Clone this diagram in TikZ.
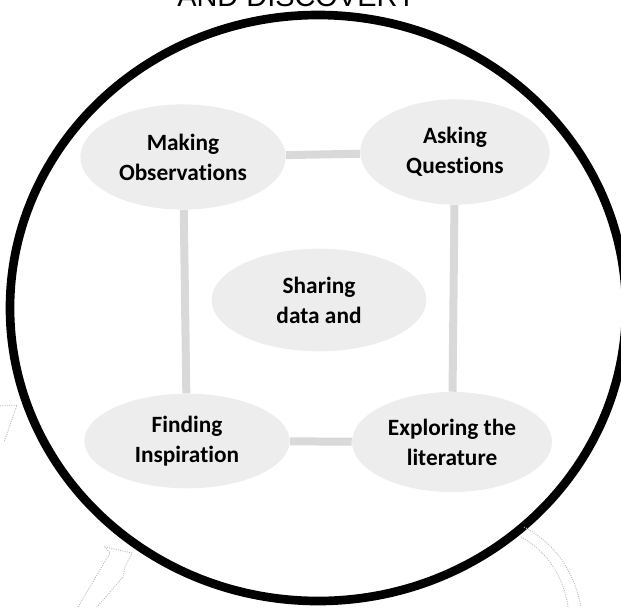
\documentclass[tikz,border=0pt]{standalone}
\usepackage{fontspec}
\setmainfont{Carlito}[Ligatures=NoCommon]
\newfontfamily\headfont{Liberation Sans}
\usetikzlibrary{shapes.geometric,positioning}
\tikzset{
    bubble/.style={ellipse,fill=gray!14,inner sep=0pt,align=center,
        font=\bfseries\fontsize{17.5}{22.5}\selectfont},
    link/.style={draw=gray!30,line width=6pt},
    ghost/.style={draw=gray!55,densely dotted,line width=0.7pt}
}

\begin{document}
\begin{tikzpicture}[x=0.75pt,y=-0.75pt]
    \useasboundingbox (0,0) rectangle (621,607);
    \clip (0,0) rectangle (621,607);

    % heading, cut by the top edge
    \node[font=\headfont\fontsize{21.7}{24}\selectfont,anchor=base west,inner sep=0pt]
        (heading) at (177,6) {AND DISCOVERY};

    \draw[line width=6.5pt] (318,308) ellipse [x radius=308,y radius=293];

    \node[bubble,minimum width=154pt,minimum height=79pt] (obs)   at (183,157) {Making\\Observations};
    \node[bubble,minimum width=142pt,minimum height=79pt] (ask)   at (455,152) {Asking\\Questions};
    \node[bubble,minimum width=161pt,minimum height=77pt] (share) at (319,300) {Sharing\\data and};
    \node[bubble,minimum width=154pt,minimum height=71pt] (fin)   at (187,441) {Finding\\Inspiration};
    \node[bubble,minimum width=150pt,minimum height=75pt] (exp)   at (452,442) {Exploring the\\literature};

    \draw[link] (obs) -- (ask);
    \draw[link] (obs) -- (fin);
    \draw[link] (ask) -- (exp);
    \draw[link] (fin) -- (exp);

    % faint outlines of the outer arrows
    \draw[ghost] (0,406) -- (17,405) -- (4,442);
    \draw[ghost] (78,607) -- (110,553) -- (105,547) -- (132,553) -- (125,567) -- (123,577) -- (97,607);
    \draw[ghost] (524,527) .. controls (558,545) and (575,575) .. (581,607);
    \draw[ghost] (521,537) .. controls (550,553) and (564,580) .. (568,607);
\end{tikzpicture}
\end{document}
